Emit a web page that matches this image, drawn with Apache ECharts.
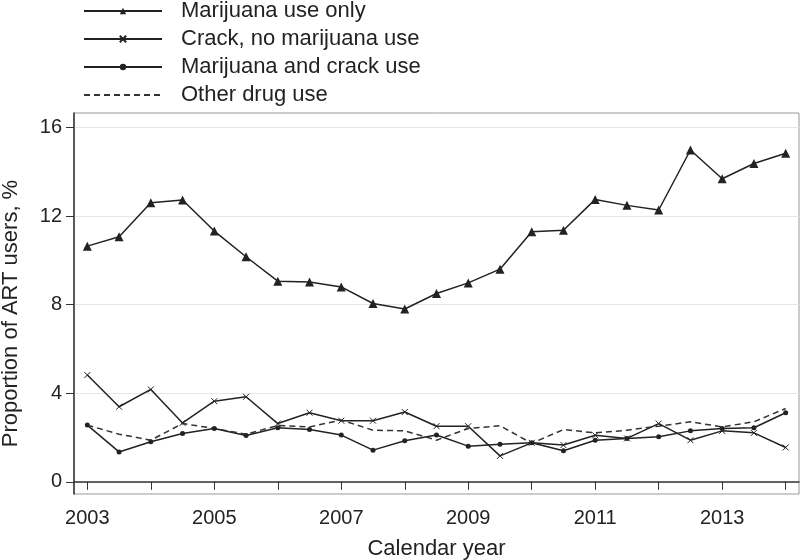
<!DOCTYPE html>
<html>
<head>
<meta charset="utf-8">
<script src="https://cdn.jsdelivr.net/npm/echarts@6/dist/echarts.min.js"></script>
<style>
html,body{margin:0;padding:0;background:#fff;}
#chart{width:800px;height:560px;}
</style>
</head>
<body>
<div id="chart"></div>
<script>
const years = [2003, 2003.5, 2004, 2004.5, 2005, 2005.5, 2006, 2006.5, 2007, 2007.5, 2008, 2008.5,
  2009, 2009.5, 2010, 2010.5, 2011, 2011.5, 2012, 2012.5, 2013, 2013.5, 2014];
const marijuanaOnly = [10.64, 11.06, 12.6, 12.72, 11.32, 10.16, 9.06, 9.02, 8.8, 8.05, 7.8, 8.5,
  8.98, 9.6, 11.29, 11.36, 12.75, 12.48, 12.27, 14.98, 13.68, 14.37, 14.83];
const crackNoMarijuana = [4.82, 3.39, 4.17, 2.66, 3.64, 3.84, 2.63, 3.12, 2.76, 2.76, 3.15, 2.51,
  2.51, 1.17, 1.76, 1.66, 2.1, 1.96, 2.63, 1.88, 2.3, 2.21, 1.55];
const marijuanaAndCrack = [2.56, 1.35, 1.81, 2.18, 2.41, 2.09, 2.44, 2.36, 2.11, 1.43, 1.85, 2.11,
  1.61, 1.70, 1.76, 1.40, 1.88, 1.96, 2.03, 2.30, 2.41, 2.44, 3.12];
const otherDrugUse = [2.56, 2.15, 1.88, 2.63, 2.41, 2.15, 2.54, 2.48, 2.79, 2.33, 2.30, 1.88,
  2.41, 2.53, 1.74, 2.36, 2.21, 2.33, 2.51, 2.71, 2.48, 2.71, 3.31];
const seriesNames = ['Marijuana use only', 'Crack, no marijuana use', 'Marijuana and crack use', 'Other drug use'];
const xTickValues = [2003, 2004, 2005, 2006, 2007, 2008, 2009, 2010, 2011, 2012, 2013, 2014];
const xLabelValues = [2003, 2005, 2007, 2009, 2011, 2013];
const yTickValues = [0, 4, 8, 12, 16];

const pair = (arr) => years.map((y, i) => [y, arr[i]]);
const font = '"Liberation Sans", Arial, sans-serif';
const ink = '#222';
const crossPath = 'path://M0,0L10,10M10,0L0,10';

const chart = echarts.init(document.getElementById('chart'));
chart.setOption({
  animation: false,
  backgroundColor: '#fff',
  textStyle: { fontFamily: font },
  legend: {
    orient: 'vertical',
    left: 83,
    top: 0,
    padding: 0,
    itemWidth: 78,
    itemHeight: 8,
    itemGap: 6,
    textStyle: { fontSize: 22, lineHeight: 22, color: ink, fontFamily: font, padding: [0, 0, 0, 14] },
    data: [
      seriesNames[0], seriesNames[1], seriesNames[2],
      { name: seriesNames[3], itemStyle: { opacity: 0 } }
    ]
  },
  grid: {
    left: 74, right: 1, top: 113, bottom: 66,
    outerBoundsMode: 'none',
    containLabel: false,
    show: true, borderColor: '#999', borderWidth: 1
  },
  xAxis: {
    type: 'value',
    min: 2002.79, max: 2014.21,
    name: 'Calendar year',
    nameLocation: 'middle',
    nameGap: 44,
    nameTextStyle: { fontSize: 22, color: ink, fontFamily: font },
    axisLine: { show: true, lineStyle: { color: '#333', width: 1.5 } },
    axisTick: { show: true, length: 8, lineStyle: { color: '#333' }, customValues: xTickValues },
    axisLabel: { fontSize: 20, color: ink, margin: 14, customValues: xLabelValues, formatter: (v) => String(v) },
    splitLine: { show: false }
  },
  yAxis: {
    type: 'value',
    min: -0.55, max: 16.65,
    name: 'Proportion of ART users, %',
    nameLocation: 'middle',
    nameGap: 52,
    nameTextStyle: { fontSize: 22, color: ink, fontFamily: font, padding: [0, 20, 0, 0] },
    axisLine: { show: true, lineStyle: { color: '#333', width: 1.5 } },
    axisTick: { show: true, length: 8, lineStyle: { color: '#333' }, customValues: yTickValues },
    axisLabel: { fontSize: 20, color: ink, margin: 12, customValues: yTickValues },
    splitLine: { show: true, lineStyle: { color: '#e6e6e6', width: 1 }, customValues: yTickValues }
  },
  series: [
    {
      name: seriesNames[0], type: 'line', data: pair(marijuanaOnly),
      symbol: 'triangle', symbolSize: 9,
      lineStyle: { color: ink, width: 1.5 },
      itemStyle: { color: ink }
    },
    {
      name: seriesNames[1], type: 'line', data: pair(crackNoMarijuana),
      symbol: crossPath, symbolSize: 6,
      lineStyle: { color: ink, width: 1.5 },
      itemStyle: { color: ink, borderColor: ink, borderWidth: 1 }
    },
    {
      name: seriesNames[2], type: 'line', data: pair(marijuanaAndCrack),
      symbol: 'circle', symbolSize: 5,
      lineStyle: { color: ink, width: 1.5 },
      itemStyle: { color: ink }
    },
    {
      name: seriesNames[3], type: 'line', data: pair(otherDrugUse),
      symbol: 'none',
      lineStyle: { color: '#333', width: 1.5, type: [6, 4] },
      itemStyle: { color: '#333' }
    }
  ]
});
</script>
</body>
</html>
